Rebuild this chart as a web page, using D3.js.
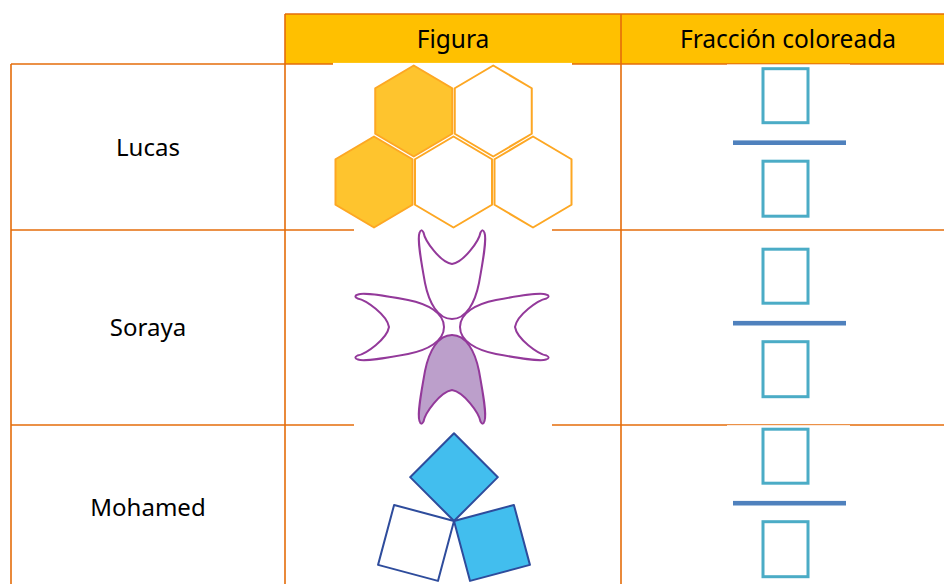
<!DOCTYPE html>
<html>
<head>
<meta charset="utf-8">
<script src="https://cdn.jsdelivr.net/npm/d3@7/dist/d3.min.js"></script>
<style>
  html, body { margin: 0; padding: 0; background: #fff; }
  svg { display: block; }
</style>
</head>
<body>
<script>
// ---------- data ----------
const columns = ["Figura", "Fracción coloreada"];
const names = ["Lucas", "Soraya", "Mohamed"];
const totalParts = [5, 4, 3];
const shadedParts = [2, 1, 2];
// Lucas: hexagon lattice (column index, row index)
const hexCol = [0.5, 1.5, 0, 1, 2];
const hexRow = [0, 0, 1, 1, 1];
const hexShaded = [true, false, true, false, false];
// Soraya: petals (direction in degrees)
const petalAngle = [-90, 0, 90, 180];
const petalShaded = [false, false, true, false];
// Mohamed: squares (rotation in degrees about the shared corner)
const squareAngle = [-135, 105, -15];
const squareShaded = [true, false, true];

// ---------- layout ----------
const W = 944, H = 584;
const colEdges = [11, 285, 621, 955];
const rowEdges = [64, 230, 425, 590];
const headerTop = 14;
const orange = "#E46C0A";
const font = "'Noto Sans', 'Open Sans', sans-serif";

const svg = d3.select("body").append("svg").attr("width", W).attr("height", H);
svg.append("rect").attr("width", W).attr("height", H).attr("fill", "#fff");

const rowMid = i => (rowEdges[i] + rowEdges[i + 1]) / 2;

// header
svg.append("rect").attr("x", colEdges[1]).attr("y", headerTop)
  .attr("width", colEdges[3] - colEdges[1]).attr("height", rowEdges[0] - headerTop)
  .attr("fill", "#FFC000");
svg.selectAll("text.head").data(columns).join("text").attr("class", "head")
  .attr("x", (d, i) => (colEdges[i + 1] + colEdges[i + 2]) / 2)
  .attr("y", 48)
  .attr("text-anchor", "middle")
  .attr("font-family", font).attr("font-size", 24.5).attr("fill", "#000")
  .text(d => d);

// borders
const g = svg.append("g").attr("stroke", orange).attr("stroke-width", 1.6).attr("fill", "none");
g.append("line").attr("x1", colEdges[1]).attr("x2", colEdges[3]).attr("y1", headerTop).attr("y2", headerTop);
g.append("line").attr("x1", colEdges[1]).attr("x2", colEdges[1]).attr("y1", headerTop).attr("y2", rowEdges[0]);
g.append("line").attr("x1", colEdges[2]).attr("x2", colEdges[2]).attr("y1", headerTop).attr("y2", H);
g.selectAll("line.h").data(rowEdges.slice(0, 3)).join("line").attr("class", "h")
  .attr("x1", colEdges[0]).attr("x2", colEdges[3]).attr("y1", d => d).attr("y2", d => d);
g.selectAll("line.v").data([colEdges[0], colEdges[1]]).join("line").attr("class", "v")
  .attr("x1", d => d).attr("x2", d => d).attr("y1", rowEdges[0]).attr("y2", H);

// white picture backgrounds that hide parts of the borders
const whites = [
  [333, 62.9, 239, 2.4],
  [354, 228.8, 198, 2.4],
  [354, 423.8, 198, 2.4],
  [727, 64.4, 123, 1.4],
  [727, 425.2, 123, 1.2]
];
svg.selectAll("rect.wh").data(whites).join("rect").attr("class", "wh")
  .attr("x", d => d[0]).attr("y", d => d[1]).attr("width", d => d[2]).attr("height", d => d[3])
  .attr("fill", "#fff");

// names
svg.selectAll("text.name").data(names).join("text").attr("class", "name")
  .attr("x", (colEdges[0] + colEdges[1]) / 2)
  .attr("y", (d, i) => rowMid(i) + 8.5)
  .attr("text-anchor", "middle")
  .attr("font-family", font).attr("font-size", 24).attr("fill", "#000")
  .text(d => d);

// ---------- Lucas: hexagons ----------
const hexX = d3.scaleLinear().domain([0, 2]).range([374, 533]);
const hexY = d3.scaleLinear().domain([0, 1]).range([111, 182]);
const R = 45.5, hw = 38.5;
const hexPts = [[0, -R], [hw, -R / 2], [hw, R / 2], [0, R], [-hw, R / 2], [-hw, -R / 2]];
const hexLine = d3.line().curve(d3.curveLinearClosed);
svg.selectAll("path.hex").data(hexCol.map((c, i) => ({ c, r: hexRow[i], s: hexShaded[i] })))
  .join("path").attr("class", "hex")
  .attr("transform", d => `translate(${hexX(d.c)},${hexY(d.r)})`)
  .attr("d", hexLine(hexPts))
  .attr("fill", d => d.s ? "#FEC42E" : "#fff")
  .attr("stroke", "#FDA723").attr("stroke-width", 2).attr("stroke-linejoin", "round");

// ---------- Soraya: petals ----------
const petalCenter = [452, 327];
const petalPath = d3.path();
(function () {
  const p = petalPath;
  p.moveTo(8, 0);
  p.bezierCurveTo(8, 14, 24, 23, 44, 27);
  p.bezierCurveTo(66, 31, 88, 35, 94, 32.5);
  p.quadraticCurveTo(99, 31, 94.5, 28.5);
  p.bezierCurveTo(86, 27, 65, 12, 63, 0);
  p.bezierCurveTo(65, -12, 86, -27, 94.5, -28.5);
  p.quadraticCurveTo(99, -31, 94, -32.5);
  p.bezierCurveTo(88, -35, 66, -31, 44, -27);
  p.bezierCurveTo(24, -23, 8, -14, 8, 0);
  p.closePath();
})();
svg.selectAll("path.petal").data(petalAngle.map((a, i) => ({ a, s: petalShaded[i] })))
  .join("path").attr("class", "petal")
  .attr("transform", d => `translate(${petalCenter[0]},${petalCenter[1]}) rotate(${d.a})`)
  .attr("d", petalPath.toString())
  .attr("fill", d => d.s ? "#BC9FCB" : "#fff")
  .attr("stroke", "#93399A").attr("stroke-width", 2).attr("stroke-linejoin", "round");

// ---------- Mohamed: squares ----------
const pivot = [454, 521];
const side = 62;
svg.selectAll("rect.sq").data(squareAngle.map((a, i) => ({ a, s: squareShaded[i] })))
  .join("rect").attr("class", "sq")
  .attr("transform", d => `translate(${pivot[0]},${pivot[1]}) rotate(${d.a})`)
  .attr("x", 0).attr("y", 0).attr("width", side).attr("height", side)
  .attr("fill", d => d.s ? "#42BEEE" : "#fff")
  .attr("stroke", "#2E4C9C").attr("stroke-width", 2).attr("stroke-linejoin", "round");

// ---------- fraction boxes ----------
const fx = 785.5;
const fg = svg.selectAll("g.frac").data(names).join("g").attr("class", "frac")
  .attr("transform", (d, i) => `translate(${fx},${rowMid(i) - 4.3})`);
fg.append("rect").attr("x", -22.5).attr("y", -74).attr("width", 45).attr("height", 54)
  .attr("fill", "none").attr("stroke", "#4BACC6").attr("stroke-width", 3);
fg.append("rect").attr("x", -22.5).attr("y", 18.5).attr("width", 45).attr("height", 55)
  .attr("fill", "none").attr("stroke", "#4BACC6").attr("stroke-width", 3);
fg.append("rect").attr("x", -52.5).attr("y", -2.3).attr("width", 113).attr("height", 4.6)
  .attr("fill", "#4F81BD");
</script>
</body>
</html>
